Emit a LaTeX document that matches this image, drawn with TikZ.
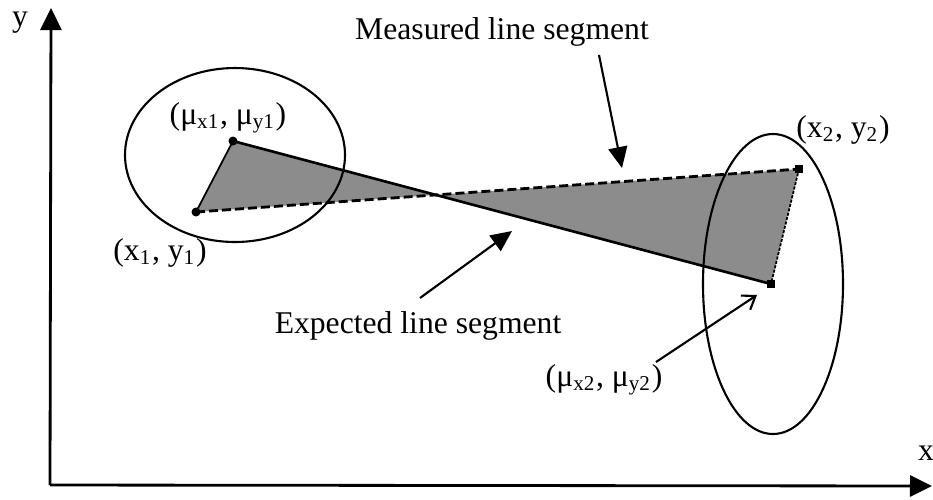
\documentclass[tikz,border=0pt]{standalone}
\usepackage{fontspec}
\setmainfont{Liberation Serif}
\usetikzlibrary{arrows.meta}

\begin{document}
\begin{tikzpicture}[x=0.01cm,y=-0.01cm,
    axis/.style={line width=0.8pt, -{Triangle[length=0.22cm,width=0.21cm]}},
    lbl/.style={font=\fontsize{9}{11}\selectfont, inner sep=0pt},
    expected/.style={line width=0.75pt},
    measured/.style={line width=0.8pt, dash pattern=on 0.09cm off 0.04cm},
    region/.style={fill=black!45},
    bigarrow/.style={line width=0.6pt, -{Triangle[length=0.21cm,width=0.19cm]}},
    thinarrow/.style={line width=0.6pt, -{Straight Barb[length=0.12cm,width=0.17cm]}},
    dotpt/.style={circle, fill, inner sep=0pt, minimum size=0.09cm},
    sqpt/.style={rectangle, fill, inner sep=0pt, minimum size=0.075cm},
    ring/.style={line width=0.6pt}
  ]
  \useasboundingbox (0,0) rectangle (933,499);
  % axes
  \coordinate (o) at (50,485);
  \coordinate (ytip) at (51,8);
  \coordinate (xtip) at (932,486);
  \draw[axis] (o) -- (ytip);
  \draw[axis] (o) -- (xtip);
  \node[lbl] (ylbl) at (20,23) {y};
  \node[lbl] (xlbl) at (926,453) {x};

  % end points of the two segments
  \coordinate (m1) at (233,141);
  \coordinate (x1) at (196,212);
  \coordinate (x2) at (799,169);
  \coordinate (m2) at (771,284);
  \coordinate (cross) at (intersection of m1--m2 and x1--x2);

  % shaded area between the segments
  \fill[region] (m1) -- (x1) -- (cross) -- cycle;
  \fill[region] (cross) -- (x2) -- (m2) -- cycle;
  \draw[line width=0.5pt] (m1) -- (x1);
  \draw[line width=0.5pt, dash pattern=on 0.03cm off 0.015cm] (x2) -- (m2);
  \draw[expected] (m1) -- (m2);
  \draw[measured] (x1) -- (x2);

  % uncertainty ellipses
  \draw[ring] (235,155) ellipse [x radius=110, y radius=87];
  \draw[ring] (773,284) ellipse [x radius=70, y radius=150];

  \node[dotpt] (pm1) at (m1) {};
  \node[dotpt] (px1) at (x1) {};
  \node[sqpt] (px2) at (x2) {};
  \node[sqpt] (pm2) at (m2) {};

  % labels
  \node[lbl] (m1lbl) at (228,118) {(μ\textsubscript{x1}, μ\textsubscript{y1})};
  \node[lbl] (x1lbl) at (160,253) {(x\textsubscript{1}, y\textsubscript{1})};
  \node[lbl] (x2lbl) at (843,130) {(x\textsubscript{2}, y\textsubscript{2})};
  \node[lbl, anchor=east] (m2lbl) at (663,380) {(μ\textsubscript{x2}, μ\textsubscript{y2})};
  \node[lbl] (meastext) at (502,32) {Measured line segment};
  \node[lbl] (exptext) at (418,326) {Expected line segment};

  % pointers
  \coordinate (meastail) at (599,55);
  \coordinate (meastip) at (622,168);
  \coordinate (exptail) at (420,298);
  \coordinate (exptip) at (512,231);
  \coordinate (m2tail) at (656,362);
  \coordinate (m2tip) at (757,295);
  \draw[bigarrow] (meastail) -- (meastip);
  \draw[bigarrow] (exptail) -- (exptip);
  \draw[thinarrow] (m2tail) -- (m2tip);
\end{tikzpicture}
\end{document}
